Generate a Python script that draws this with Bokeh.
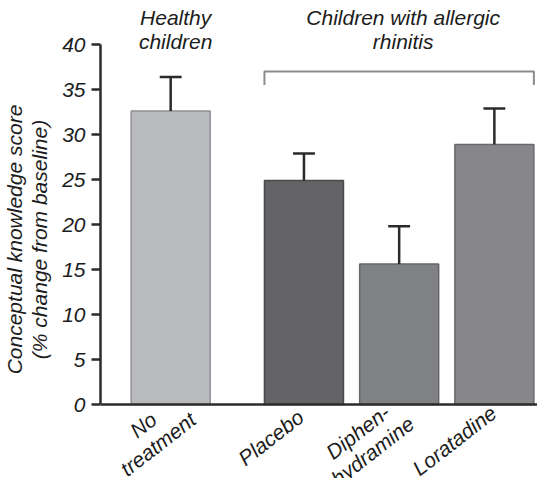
import numpy as np
from bokeh.plotting import figure
from bokeh.models import ColumnDataSource, Range1d, FixedTicker, Span, Label
from bokeh.core.properties import value
from bokeh.embed import file_html
from bokeh.resources import INLINE

# ---- data ----
categories = ["No\ntreatment", "Placebo", "Diphen-\nhydramine", "Loratadine"]
groups = ["healthy", "allergic", "allergic", "allergic"]
group_keys = ["healthy", "allergic"]
group_titles = ["Healthy\nchildren", "Children with allergic\nrhinitis"]
means = [32.6, 24.9, 15.6, 28.9]
sems = [3.8, 3.0, 4.2, 4.0]
y_ticks = [0, 5, 10, 15, 20, 25, 30, 35, 40]
axis_title = "Conceptual knowledge score\n(% change from baseline)"

# ---- styles ----
fills = ["#b9babe", "#646466", "#808185", "#87878b"]
outlines = ["#8f9094", "#4a4a4c", "#66676a", "#6a6a6e"]
label_dx = [-20, -33, -34, -40]   # label block offsets from bar centre (px)
label_dy = [-30, -33, -37, -36]
LABEL_ANGLE = 0.66
FONT = "Liberation Sans"
TXT = "#1c1c1c"
AX = "#2b2b2b"
GAP = 0.4
BAR_W = 0.83
PX_PER_Y = 9.0

# bar centres: one slot per bar, with an extra gap between groups
xs = []
pos = 0.0
for i, g in enumerate(groups):
    if i > 0:
        pos += 1.0 + (GAP if g != groups[i - 1] else 0.0)
    xs.append(pos)
xs = np.array(xs)
means_a = np.array(means)
tops = means_a + np.array(sems)

H = 478
y_top = 40 + 44 / PX_PER_Y
y_bot = -(H - 44 - 40 * PX_PER_Y) / PX_PER_Y

p = figure(width=537, height=H, output_backend="svg", toolbar_location=None,
           x_range=Range1d(-0.737, 3.853), y_range=Range1d(y_bot, y_top),
           x_axis_location=None,
           min_border_left=100, min_border_right=0, min_border_top=0, min_border_bottom=0)
p.outline_line_color = None
p.grid.visible = False
p.background_fill_color = "white"

src = ColumnDataSource(dict(x=xs, top=means_a, err=tops, fill=fills, line=outlines,
                            label=categories))
p.vbar(x="x", top="top", width=BAR_W, bottom=0, source=src,
       fill_color="fill", line_color="line", line_width=1.5)

# error bars (upper only)
p.segment(x0="x", y0="top", x1="x", y1="err", source=src, line_color=AX, line_width=2.5)
cap = 0.115
p.segment(x0=xs - cap, y0=tops, x1=xs + cap, y1=tops, line_color=AX, line_width=2.5)

# baseline (x axis line)
p.add_layout(Span(location=0, dimension="width", line_color=AX, line_width=2.5))

# bracket over the allergic group
alg = [x for x, g in zip(xs, groups) if g == "allergic"]
bx0, bx1 = min(alg) - BAR_W / 2, max(alg) + BAR_W / 2
by, bt = 37.0, 35.5
p.line(x=[bx0, bx0, bx1, bx1], y=[bt, by, by, bt], line_color="#8c8c8c", line_width=2)

# y axis
ya = p.yaxis[0]
ya.ticker = FixedTicker(ticks=y_ticks)
ya.bounds = (0, 40)
ya.axis_line_width = 2.5
ya.axis_line_color = AX
ya.major_tick_line_color = AX
ya.major_tick_line_width = 2.5
ya.major_tick_out = 9
ya.major_tick_in = 0
ya.minor_tick_line_color = None
ya.major_label_text_font = FONT
ya.major_label_text_font_style = "italic"
ya.major_label_text_font_size = "21px"
ya.major_label_text_color = TXT
ya.major_label_standoff = 6
ya.axis_label = axis_title
ya.axis_label_text_font = FONT
ya.axis_label_text_font_style = "italic"
ya.axis_label_text_font_size = "21px"
ya.axis_label_text_color = TXT
ya.axis_label_text_line_height = 1.08
ya.axis_label_standoff = 8

# rotated category labels (below the baseline)
for x, lab, dx, dy in zip(xs, categories, label_dx, label_dy):
    p.add_layout(Label(x=float(x), y=0, text=lab, x_offset=dx, y_offset=dy, angle=LABEL_ANGLE,
                       text_align="center", text_baseline="middle",
                       text_font=FONT, text_font_style="italic", text_font_size="21px",
                       text_color=TXT, text_line_height=1.05))

# group titles above the plot
gx = [float(np.mean([x for x, gg in zip(xs, groups) if gg == g])) for g in group_keys]
p.text(x=gx, y=[40, 40], text=group_titles, x_offset=[5, 4], y_offset=[-15, -15],
       text_align="center", text_baseline="middle",
       text_font=value(FONT), text_font_style="italic", text_font_size="21px",
       text_color=TXT, text_line_height=1.05)

open("out.html", "w").write(file_html(p, INLINE))
